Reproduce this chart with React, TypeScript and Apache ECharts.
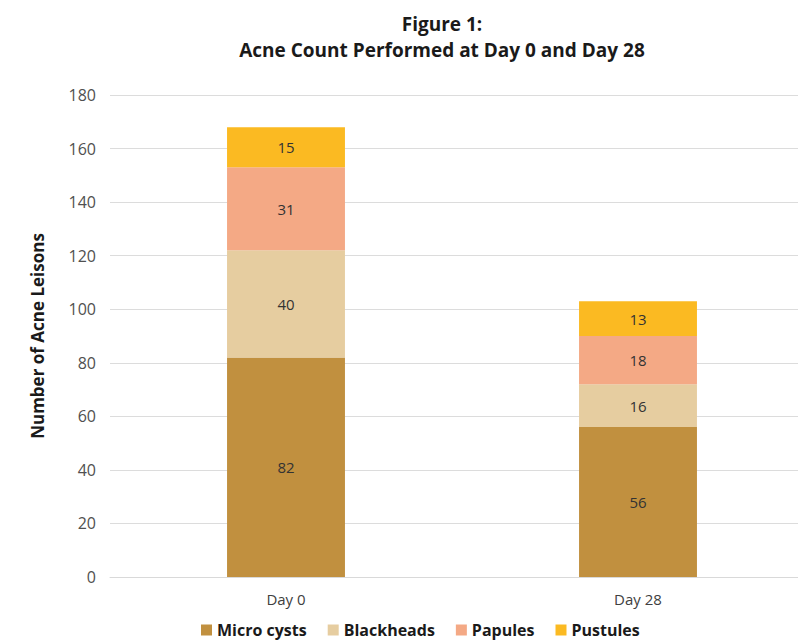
import React, { useEffect, useRef } from "react";
import * as echarts from "echarts";

const categories = ["Day 0", "Day 28"];
const microCysts = [82, 56];
const blackheads = [40, 16];
const papules = [31, 18];
const pustules = [15, 13];
const seriesNames = ["Micro cysts", "Blackheads", "Papules", "Pustules"];
const colors = ["#C1903F", "#E6CDA0", "#F4A985", "#FBBA22"];

const FONT = "'Open Sans', 'Noto Sans', sans-serif";

export default function App() {
  const ref = useRef<HTMLDivElement>(null);
  useEffect(() => {
    if (!ref.current) return;
    const chart = echarts.init(ref.current, undefined, { renderer: "svg" });
    const values = [microCysts, blackheads, papules, pustules];
    chart.setOption({
      animation: false,
      textStyle: { fontFamily: FONT },
      title: {
        text: "Figure 1:\nAcne Count Performed at Day 0 and Day 28",
        left: 437,
        textAlign: "center",
        top: 6,
        textStyle: { fontFamily: FONT, fontSize: 19, fontWeight: "bold", color: "#1a1a1a", lineHeight: 26 },
      },
      legend: {
        top: 617,
        left: 196,
        itemWidth: 11,
        itemHeight: 11,
        itemGap: 21,
        icon: "rect",
        textStyle: { fontFamily: FONT, fontSize: 16, fontWeight: "bold", color: "#1a1a1a" },
        data: seriesNames,
      },
      grid: {
        left: 110,
        width: 704,
        top: 95,
        bottom: 64,
        containLabel: false,
        outerBoundsMode: "none",
      },
      xAxis: {
        type: "category",
        data: categories,
        axisLine: { lineStyle: { color: "#d9d9d9" } },
        axisTick: { show: false },
        axisLabel: { fontFamily: FONT, fontSize: 15, color: "#404040", margin: 14 },
      },
      yAxis: {
        type: "value",
        min: 0,
        max: 180,
        interval: 20,
        name: "Number of Acne Leisons",
        nameLocation: "middle",
        nameGap: 64,
        nameTextStyle: { fontFamily: FONT, fontSize: 17, fontWeight: "bold", color: "#1a1a1a" },
        axisLine: { show: false },
        axisTick: { show: false },
        axisLabel: { fontFamily: FONT, fontSize: 16, color: "#505050", margin: 14 },
        splitLine: { lineStyle: { color: "#dcdcdc" } },
      },
      series: seriesNames.map((name, i) => ({
        name,
        type: "bar",
        stack: "total",
        data: values[i],
        barWidth: "33.5%",
        itemStyle: { color: colors[i] },
        label: { show: true, position: "inside", fontFamily: FONT, fontSize: 15, color: "#333333" },
      })),
    });
    return () => chart.dispose();
  }, []);
  return <div ref={ref} style={{ width: 798, height: 641, position: "absolute", left: 0, top: 0 }} />;
}
